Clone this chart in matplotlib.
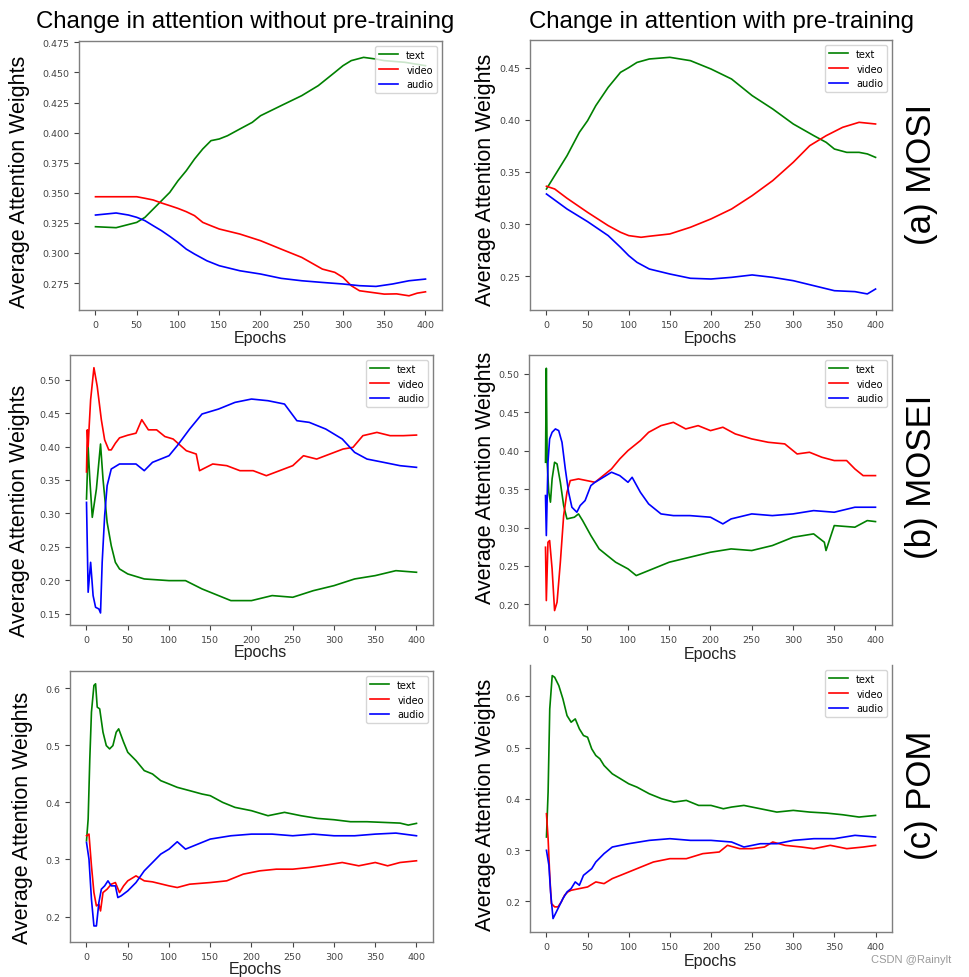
import matplotlib.pyplot as plt
from matplotlib.ticker import FormatStrFormatter

# figure is 970 x 978 px
W, H = 970.0, 978.0

labels = ['text', 'video', 'audio']
colors = ['g', 'r', 'b']

# ---- (a) MOSI, without pre-training ----
a0_text_x = [0, 25, 50, 60, 70, 80, 90, 100, 110, 120, 130, 140, 150, 160, 175, 190, 200, 225, 250, 270, 290, 300, 310, 325, 340, 350, 375, 400]
a0_text_y = [0.3218, 0.3210, 0.3254, 0.3296, 0.3365, 0.3434, 0.3503, 0.360, 0.3683, 0.378, 0.3864, 0.3933, 0.3947, 0.3974, 0.403, 0.4085, 0.414, 0.4224, 0.4307, 0.439, 0.450, 0.4556, 0.4598, 0.4625, 0.4611, 0.4598, 0.4584, 0.4556]
a0_video_x = [0, 25, 50, 60, 70, 80, 90, 100, 110, 120, 130, 140, 150, 175, 200, 225, 250, 275, 290, 300, 310, 320, 335, 350, 365, 380, 390, 400]
a0_video_y = [0.3467, 0.3467, 0.3467, 0.3454, 0.344, 0.3415, 0.3393, 0.337, 0.3343, 0.331, 0.3254, 0.3226, 0.3199, 0.3157, 0.3102, 0.3032, 0.2963, 0.2866, 0.2839, 0.2797, 0.2728, 0.2686, 0.2672, 0.2658, 0.2660, 0.2644, 0.2666, 0.2677]
a0_audio_x = [0, 25, 40, 50, 60, 70, 80, 90, 100, 110, 120, 135, 150, 175, 200, 225, 250, 275, 300, 320, 340, 360, 380, 400]
a0_audio_y = [0.3315, 0.3332, 0.3315, 0.3296, 0.3268, 0.3226, 0.3185, 0.3138, 0.3088, 0.3032, 0.2991, 0.2935, 0.2894, 0.2852, 0.2825, 0.2789, 0.2769, 0.2755, 0.2742, 0.2728, 0.2722, 0.2742, 0.2769, 0.2783]

# ---- (a) MOSI, with pre-training ----
a1_text_x = [0, 10, 25, 40, 50, 60, 75, 90, 100, 110, 125, 150, 175, 200, 225, 250, 275, 300, 325, 340, 350, 365, 380, 390, 400]
a1_text_y = [0.3337, 0.3465, 0.3656, 0.388, 0.3992, 0.4136, 0.4311, 0.4455, 0.450, 0.455, 0.4583, 0.4599, 0.4567, 0.4487, 0.4391, 0.4232, 0.4104, 0.396, 0.3848, 0.3784, 0.372, 0.3688, 0.3688, 0.3673, 0.364]
a1_video_x = [0, 10, 25, 50, 75, 90, 100, 115, 125, 150, 175, 200, 225, 250, 275, 300, 320, 340, 360, 380, 400]
a1_video_y = [0.3363, 0.3337, 0.3248, 0.3113, 0.2986, 0.2922, 0.289, 0.2874, 0.2884, 0.2906, 0.297, 0.305, 0.3145, 0.3273, 0.3417, 0.3593, 0.3752, 0.3848, 0.3928, 0.3976, 0.396]
a1_audio_x = [0, 25, 50, 75, 90, 100, 110, 125, 150, 175, 200, 225, 250, 275, 300, 325, 350, 375, 390, 400]
a1_audio_y = [0.3289, 0.3145, 0.3024, 0.289, 0.2778, 0.2698, 0.2634, 0.257, 0.2522, 0.2481, 0.2474, 0.249, 0.2513, 0.249, 0.2458, 0.241, 0.2362, 0.2353, 0.2331, 0.2378]

# ---- (b) MOSEI, without pre-training ----
b0_text_x = [0, 2, 4, 7, 12, 17, 20, 25, 30, 35, 40, 50, 70, 100, 120, 140, 160, 175, 200, 225, 250, 275, 300, 325, 350, 375, 400]
b0_text_y = [0.3215, 0.3988, 0.3514, 0.2941, 0.3365, 0.4038, 0.3514, 0.2866, 0.2517, 0.2268, 0.2169, 0.2094, 0.2019, 0.1994, 0.1994, 0.187, 0.177, 0.1695, 0.1695, 0.177, 0.1745, 0.1844, 0.1919, 0.2019, 0.2069, 0.2143, 0.2119]
b0_video_x = [0, 1, 2, 3, 5, 9, 13, 18, 22, 27, 30, 35, 40, 50, 60, 67, 75, 85, 95, 105, 121, 133, 137, 153, 170, 186, 202, 218, 234, 250, 263, 279, 295, 311, 323, 335, 352, 368, 384, 400]
b0_video_y = [0.362, 0.425, 0.400, 0.425, 0.47, 0.518, 0.49, 0.44, 0.41, 0.395, 0.395, 0.405, 0.413, 0.417, 0.42, 0.4402, 0.425, 0.425, 0.415, 0.4113, 0.3938, 0.3888, 0.3639, 0.3739, 0.3714, 0.3639, 0.3639, 0.3564, 0.3639, 0.3714, 0.3863, 0.3813, 0.3888, 0.3963, 0.3988, 0.4163, 0.4212, 0.4163, 0.4163, 0.4172]
b0_audio_x = [0, 2, 5, 8, 11, 15, 17, 19, 22, 25, 30, 40, 60, 70, 80, 100, 110, 125, 140, 160, 180, 200, 220, 240, 255, 270, 290, 310, 325, 340, 360, 380, 400]
b0_audio_y = [0.3165, 0.182, 0.2268, 0.177, 0.1595, 0.157, 0.151, 0.2268, 0.2966, 0.3415, 0.3664, 0.3739, 0.3739, 0.3639, 0.3764, 0.3863, 0.4013, 0.4262, 0.4487, 0.4561, 0.4661, 0.4711, 0.4686, 0.4636, 0.4387, 0.4362, 0.4262, 0.4113, 0.3913, 0.3813, 0.3764, 0.3714, 0.3689]

# ---- (b) MOSEI, with pre-training ----
b1_text_x = [0, 1, 2, 4, 6, 8, 11, 14, 18, 22, 26, 35, 40, 45, 55, 65, 75, 85, 100, 110, 125, 150, 175, 200, 225, 250, 275, 300, 325, 338, 340, 350, 375, 390, 400]
b1_text_y = [0.385, 0.5074, 0.385, 0.3459, 0.333, 0.3633, 0.385, 0.3828, 0.3589, 0.3286, 0.3112, 0.3134, 0.3177, 0.309, 0.2895, 0.2721, 0.2634, 0.2548, 0.2461, 0.2374, 0.2439, 0.2548, 0.2613, 0.2678, 0.2721, 0.27, 0.2765, 0.2873, 0.2917, 0.2808, 0.27, 0.3025, 0.3004, 0.309, 0.3077]
b1_video_x = [0, 1, 3, 5, 8, 11, 14, 18, 22, 26, 30, 40, 50, 60, 70, 80, 90, 100, 115, 125, 140, 155, 170, 185, 200, 215, 230, 250, 270, 290, 305, 320, 335, 350, 365, 375, 385, 395, 400]
b1_video_y = [0.2743, 0.2048, 0.2808, 0.283, 0.2461, 0.1918, 0.2027, 0.2548, 0.3155, 0.3459, 0.3611, 0.3633, 0.3611, 0.3589, 0.3676, 0.3763, 0.3893, 0.4002, 0.4132, 0.424, 0.4327, 0.437, 0.4284, 0.4327, 0.4262, 0.4306, 0.4219, 0.4154, 0.411, 0.4089, 0.3958, 0.398, 0.3915, 0.3872, 0.3872, 0.3763, 0.3676, 0.3676, 0.3676]
b1_audio_x = [0, 1, 3, 5, 8, 12, 16, 20, 24, 28, 32, 38, 42, 48, 55, 60, 70, 80, 90, 100, 105, 115, 125, 140, 155, 175, 200, 215, 225, 250, 275, 300, 325, 350, 375, 400]
b1_audio_y = [0.3416, 0.2895, 0.385, 0.4154, 0.424, 0.4284, 0.4262, 0.411, 0.3763, 0.3459, 0.3264, 0.3199, 0.3286, 0.3351, 0.3546, 0.3589, 0.3654, 0.372, 0.3676, 0.3589, 0.3654, 0.3459, 0.3307, 0.3177, 0.3155, 0.3155, 0.3134, 0.3047, 0.3112, 0.3177, 0.3155, 0.3177, 0.322, 0.3199, 0.3264, 0.3264]

# ---- (c) POM, without pre-training ----
c0_text_x = [0, 2, 4, 6, 9, 11, 13, 16, 20, 24, 28, 32, 36, 39, 45, 50, 60, 70, 80, 90, 100, 110, 125, 140, 150, 165, 180, 200, 220, 240, 260, 280, 300, 320, 340, 360, 380, 390, 400]
c0_text_y = [0.3327, 0.3708, 0.476, 0.5579, 0.6047, 0.6076, 0.5667, 0.5637, 0.5228, 0.4994, 0.4936, 0.4994, 0.5228, 0.5287, 0.5053, 0.4877, 0.4731, 0.4556, 0.4497, 0.438, 0.4322, 0.4263, 0.4205, 0.4146, 0.4117, 0.40, 0.3912, 0.3854, 0.3766, 0.3825, 0.3766, 0.3719, 0.3696, 0.3661, 0.3661, 0.3649, 0.3637, 0.3602, 0.3632]
c0_video_x = [0, 3, 6, 9, 12, 15, 17, 20, 25, 30, 35, 40, 45, 50, 60, 70, 80, 100, 110, 125, 150, 170, 190, 210, 230, 250, 270, 290, 310, 330, 350, 365, 380, 400]
c0_video_y = [0.3415, 0.3444, 0.2889, 0.2421, 0.2187, 0.2216, 0.2099, 0.2421, 0.248, 0.2567, 0.2596, 0.2421, 0.2538, 0.2626, 0.2713, 0.2626, 0.2608, 0.2538, 0.2509, 0.2567, 0.2596, 0.2626, 0.2743, 0.2801, 0.283, 0.283, 0.286, 0.2901, 0.2947, 0.2889, 0.2947, 0.2889, 0.2947, 0.2977]
c0_audio_x = [0, 3, 6, 9, 12, 15, 18, 22, 26, 30, 35, 38, 42, 50, 60, 70, 80, 90, 100, 110, 120, 135, 150, 175, 200, 225, 250, 275, 300, 325, 350, 375, 400]
c0_audio_y = [0.3298, 0.3006, 0.2304, 0.1836, 0.1836, 0.2246, 0.248, 0.2538, 0.2626, 0.2538, 0.2538, 0.2333, 0.2363, 0.245, 0.2596, 0.2801, 0.2947, 0.3094, 0.3181, 0.331, 0.3181, 0.3269, 0.3357, 0.3415, 0.3444, 0.3444, 0.3415, 0.3444, 0.3415, 0.3415, 0.3444, 0.3462, 0.3415]

# ---- (c) POM, with pre-training ----
c1_text_x = [0, 2, 4, 7, 10, 15, 20, 25, 30, 35, 40, 45, 50, 55, 60, 65, 70, 80, 90, 100, 110, 125, 140, 155, 170, 185, 200, 215, 225, 240, 260, 280, 300, 320, 340, 360, 380, 400]
c1_text_y = [0.3253, 0.413, 0.5753, 0.6403, 0.637, 0.6208, 0.5948, 0.5623, 0.5494, 0.5558, 0.5364, 0.5234, 0.5201, 0.4974, 0.4844, 0.4779, 0.4649, 0.4487, 0.439, 0.4292, 0.4227, 0.4097, 0.40, 0.3935, 0.3968, 0.387, 0.387, 0.3805, 0.3838, 0.387, 0.3805, 0.374, 0.3773, 0.374, 0.3721, 0.3688, 0.3643, 0.3675]
c1_video_x = [0, 2, 4, 6, 10, 14, 18, 22, 26, 30, 40, 50, 60, 70, 80, 90, 100, 115, 130, 150, 170, 190, 210, 220, 235, 250, 265, 275, 290, 310, 325, 345, 365, 385, 400]
c1_video_y = [0.3708, 0.3221, 0.2506, 0.1955, 0.189, 0.189, 0.1987, 0.2117, 0.2182, 0.2214, 0.2247, 0.2279, 0.2377, 0.2344, 0.2442, 0.2506, 0.2571, 0.2669, 0.2766, 0.2831, 0.2831, 0.2929, 0.2961, 0.3091, 0.3026, 0.3026, 0.3058, 0.3156, 0.3091, 0.3058, 0.3026, 0.3091, 0.3026, 0.3058, 0.3091]
c1_audio_x = [0, 3, 5, 8, 12, 16, 20, 25, 30, 35, 40, 45, 50, 55, 60, 70, 80, 90, 100, 125, 150, 175, 200, 225, 240, 260, 280, 300, 325, 350, 375, 400]
c1_audio_y = [0.2994, 0.2701, 0.2182, 0.1662, 0.1792, 0.1922, 0.2052, 0.2182, 0.2247, 0.2377, 0.2312, 0.2506, 0.2571, 0.2636, 0.2766, 0.2929, 0.3058, 0.3091, 0.3123, 0.3188, 0.3221, 0.3188, 0.3188, 0.3156, 0.3058, 0.3123, 0.3123, 0.3188, 0.3221, 0.3221, 0.3286, 0.3253]

titles = ['Change in attention without pre-training', 'Change in attention with pre-training']
row_names = ['(a) MOSI', '(b) MOSEI', '(c) POM']

panels = [
    [(a0_text_x, a0_text_y), (a0_video_x, a0_video_y), (a0_audio_x, a0_audio_y)],
    [(a1_text_x, a1_text_y), (a1_video_x, a1_video_y), (a1_audio_x, a1_audio_y)],
    [(b0_text_x, b0_text_y), (b0_video_x, b0_video_y), (b0_audio_x, b0_audio_y)],
    [(b1_text_x, b1_text_y), (b1_video_x, b1_video_y), (b1_audio_x, b1_audio_y)],
    [(c0_text_x, c0_text_y), (c0_video_x, c0_video_y), (c0_audio_x, c0_audio_y)],
    [(c1_text_x, c1_text_y), (c1_video_x, c1_video_y), (c1_audio_x, c1_audio_y)],
]

# pixel boxes (left, top, right, bottom) of each axes in the picture
boxes = [(79, 42, 442, 311), (530, 41, 892, 311),
         (70, 356, 433, 626), (529, 356, 892, 626),
         (70, 672, 433, 943), (530, 666, 892, 933)]
ylims = [(0.2526, 0.4761), (0.2177, 0.4765), (0.133, 0.537),
         (0.173, 0.5247), (0.1555, 0.630), (0.140, 0.661)]
yticks = [[0.275, 0.300, 0.325, 0.350, 0.375, 0.400, 0.425, 0.450, 0.475],
          [0.25, 0.30, 0.35, 0.40, 0.45],
          [0.15, 0.20, 0.25, 0.30, 0.35, 0.40, 0.45, 0.50],
          [0.20, 0.25, 0.30, 0.35, 0.40, 0.45, 0.50],
          [0.2, 0.3, 0.4, 0.5, 0.6],
          [0.2, 0.3, 0.4, 0.5, 0.6]]
yfmt = ['%.3f', '%.2f', '%.2f', '%.2f', '%.1f', '%.1f']

# where the separate labels sit (px centres)
ylabel_pos = [(20, 182), (486, 180), (20, 511), (486, 478), (23, 818), (486, 805)]
xlabel_pos = [(260, 338), (710, 338), (260, 653), (710, 655), (255, 970), (710, 962)]
rowname_y = [174, 477, 795]

fig = plt.figure(figsize=(9.7, 9.78), dpi=100)

for i in range(6):
    l, t, r, b = boxes[i]
    ax = fig.add_axes([l / W, 1 - b / H, (r - l) / W, (b - t) / H])
    for j in range(3):
        xs, ys = panels[i][j]
        ax.plot(xs, ys, color=colors[j], lw=1.2, label=labels[j])
    ax.set_xlim(-20, 420)
    ax.set_ylim(*ylims[i])
    ax.set_xticks(range(0, 401, 50))
    ax.set_yticks(yticks[i])
    ax.yaxis.set_major_formatter(FormatStrFormatter(yfmt[i]))
    ax.tick_params(labelsize=6.8, colors='#444444', length=3.5, width=0.8)
    for s in ax.spines.values():
        s.set_color('#7f7f7f')
        s.set_linewidth(1.0)
    if i == 5:
        ax.spines['top'].set_visible(False)
    ax.legend(loc='upper right', fontsize=7)

    x, y = ylabel_pos[i]
    fig.text(x / W, 1 - y / H, 'Average Attention Weights', rotation=90,
             ha='center', va='center', fontsize=15.5, family='Liberation Sans')
    x, y = xlabel_pos[i]
    fig.text(x / W, 1 - y / H, 'Epochs', ha='center', va='center',
             fontsize=11.5, family='Liberation Sans', color='#222222')

fig.text(245 / W, 1 - 22 / H, titles[0], ha='center', va='center',
         fontsize=17.3, family='Liberation Sans')
fig.text(722 / W, 1 - 22 / H, titles[1], ha='center', va='center',
         fontsize=17.3, family='Liberation Sans')

for k in range(3):
    fig.text(922 / W, 1 - rowname_y[k] / H, row_names[k], rotation=90,
             ha='center', va='center', fontsize=25, family='Liberation Sans')

fig.text(911 / W, 1 - 960 / H, 'CSDN @Rainylt', ha='center', va='center',
         fontsize=8, color='#9a9a9a', family='Liberation Sans')

fig.savefig('out.png', dpi=100)
